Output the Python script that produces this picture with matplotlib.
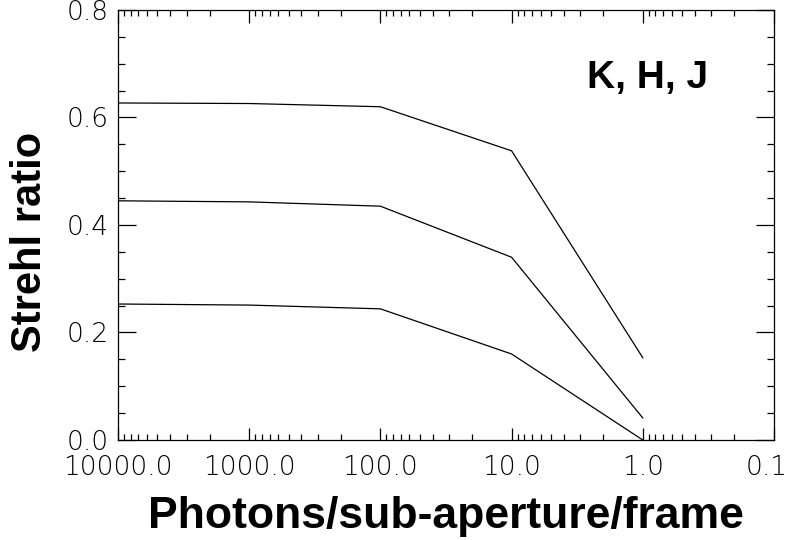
import matplotlib
matplotlib.use("Agg")
import matplotlib.pyplot as plt
import matplotlib.ticker as mt
import matplotlib.transforms as mtrans

# photons per sub-aperture per frame, and Strehl for each band
photons = [10000.0, 1000.0, 100.0, 10.0, 1.0]
strehl_k = [0.627, 0.626, 0.620, 0.538, 0.153]
strehl_h = [0.445, 0.443, 0.435, 0.340, 0.041]
strehl_j = [0.253, 0.251, 0.244, 0.160, 0.000]

x_ticks = [10000.0, 1000.0, 100.0, 10.0, 1.0, 0.1]
y_ticks = [0.0, 0.2, 0.4, 0.6, 0.8]

fig = plt.figure(figsize=(7.93, 5.40), dpi=100)
ax = fig.add_axes([0.1488, 0.1852, 0.8272, 0.7963])

for s in (strehl_k, strehl_h, strehl_j):
    ax.plot(photons, s, color="black", lw=0.9)

ax.set_xscale("log")
ax.set_xlim(10000, 0.1)
ax.set_ylim(0, 0.8)

ax.set_xticks(x_ticks)
ax.xaxis.set_major_formatter(mt.FormatStrFormatter("%.1f"))
ax.xaxis.set_minor_locator(mt.LogLocator(base=10, subs=range(2, 10)))
ax.xaxis.set_minor_formatter(mt.NullFormatter())
ax.set_yticks(y_ticks)
ax.yaxis.set_major_formatter(mt.FormatStrFormatter("%.1f"))
ax.yaxis.set_minor_locator(mt.MultipleLocator(0.05))

ax.tick_params(axis="both", which="both", direction="in", top=True, right=True,
               width=0.9, colors="black")
ax.tick_params(axis="y", which="major", length=13, pad=7)
ax.tick_params(axis="y", which="minor", length=5)
ax.tick_params(axis="x", which="major", length=9, pad=11)
ax.tick_params(axis="x", which="minor", length=4)
for lab in ax.get_xticklabels() + ax.get_yticklabels():
    lab.set_fontsize(19)
    lab.set_fontfamily("DejaVu Sans")
    lab.set_fontweight("light")
for sp in ax.spines.values():
    sp.set_linewidth(0.9)

# nudge the last x label so it stays inside the figure
last = ax.xaxis.get_major_ticks()[-1].label1
last.set_transform(last.get_transform() +
                   mtrans.ScaledTranslation(-7 / 100, 0, fig.dpi_scale_trans))

ax.set_xlabel("Photons/sub-aperture/frame", fontsize=32, fontweight="bold",
              fontfamily="Liberation Sans", va="center")
ax.xaxis.set_label_coords(0.5, -0.177)
ax.set_ylabel("Strehl ratio", fontsize=30, fontweight="bold",
              fontfamily="Liberation Sans", va="center")
ax.yaxis.set_label_coords(-0.134, 0.46)
ax.text(0.808, 0.842, "K, H, J", transform=ax.transAxes, fontsize=28,
        fontweight="bold", fontfamily="Liberation Sans", ha="center", va="center")

fig.savefig("out.png", dpi=100)
